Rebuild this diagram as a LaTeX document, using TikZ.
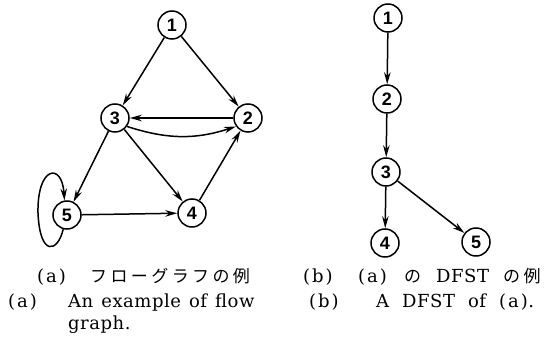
\documentclass[tikz,border=0pt]{standalone}
\usepackage{fontspec}
\setmainfont{DejaVu Serif}[LetterSpace=3]
\newfontfamily\numfont{Liberation Sans}
\newfontfamily\jpfont{Noto Sans CJK JP}[LetterSpace=20]
\newcommand\capfont{\fontsize{18}{18}\selectfont\spaceskip 8pt\relax}
\newcommand\pl[1]{(\kern2pt#1\kern2pt)}
\usetikzlibrary{arrows.meta}
\begin{document}
\begin{tikzpicture}[x=1pt,y=-1pt,
  vtx/.style={draw,circle,line width=1.5pt,minimum size=28pt,inner sep=0pt,font=\numfont\bfseries\fontsize{18}{18}\selectfont},
  arr/.style={line width=1.5pt,-{Stealth[length=12pt,width=6.5pt]}},
  captxt/.style={anchor=base west,inner sep=0pt,font=\capfont},
  jcaptxt/.style={anchor=base west,inner sep=0pt,font=\jpfont\fontsize{17}{17}\selectfont}]
\useasboundingbox (0,0) rectangle (546,347);
% left graph
\node[vtx] (a1) at (172,25) {1};
\node[vtx] (a2) at (248,118) {2};
\node[vtx] (a3) at (115,118) {3};
\node[vtx] (a4) at (192,213) {4};
\node[vtx] (a5) at (67,215) {5};
\draw[arr] (a1) -- (a3);
\draw[arr] (a1) -- (a2);
\draw[arr] (a2) -- (a3);
\draw[arr] (a3.-35) to[bend right=18] (a2.-145);
\draw[arr] (a3) -- (a5);
\draw[arr] (a3) -- (a4);
\draw[arr] (a5) -- (a4);
\draw[arr] (a4) -- (a2);
\draw[arr] (a5.255) .. controls (58,252) and (40,258) .. (38,213) .. controls (37,166) and (62,162) .. (a5.100);
% right graph
\node[vtx] (b1) at (388,18) {1};
\node[vtx] (b2) at (387,99) {2};
\node[vtx] (b3) at (386,172) {3};
\node[vtx] (b4) at (385,243) {4};
\node[vtx] (b5) at (476,242) {5};
\draw[arr] (b1) -- (b2);
\draw[arr] (b2) -- (b3);
\draw[arr] (b3) -- (b4);
\draw[arr] (b3) -- (b5);
% captions
\node[captxt] (ca1) at (37,283) {\pl{a}};
\node[jcaptxt] (cj1) at (90,283) {フローグラフの例};
\node[captxt] (ca2) at (8,308) {\pl{a}};
\node[captxt] (ce2) at (68,308) {An example of flow};
\node[captxt] (ce3) at (68,330) {graph.};
\node[captxt] (cb1) at (303,283) {\pl{b}};
\node[captxt] (cb1a) at (358,283) {\pl{a}};
\node[jcaptxt] (cb1n) at (404,283) {の};
\node[captxt] (cb1d) at (436,283) {DFST};
\node[jcaptxt] (cb1r) at (503,283) {の例};
\node[captxt] (cb2) at (309,308) {\pl{b}};
\node[captxt,font=\capfont\spaceskip 13pt\relax] (cb2t) at (376,308) {A DFST of \pl{a}.};
\end{tikzpicture}
\end{document}
